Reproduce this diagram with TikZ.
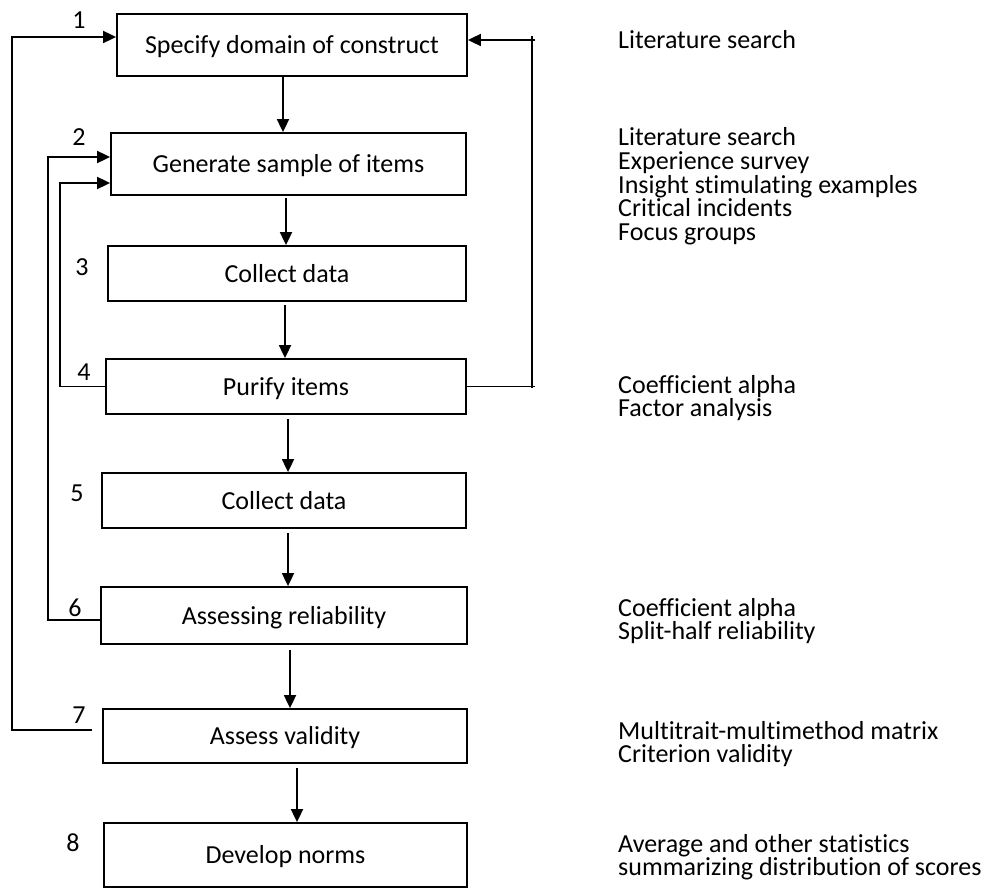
\documentclass[tikz,border=0pt]{standalone}
\usepackage{fontspec}
\setmainfont{Carlito}[Ligatures=CommonOff]
\usetikzlibrary{arrows.meta}

\begin{document}
\begin{tikzpicture}[x=1pt,y=-1pt,
  every node/.style={font=\fontsize{26pt}{23.5pt}\selectfont},
  stage/.style={draw=black, line width=1.8pt, fill=white, inner sep=0pt,
                text height=17pt, text depth=0pt},
  num/.style={inner sep=0pt, text height=17pt, text depth=0pt},
  note/.style={anchor=base west, inner sep=0pt},
  link/.style={line width=1.8pt},
  arr/.style={link, -{Triangle[length=13pt,width=12pt]}}]

\useasboundingbox (0,0) rectangle (995,888);

% process stages
\node[stage, minimum width=350pt, minimum height=62pt] (b1) at (292,45)    {Specify domain of construct};
\node[stage, minimum width=355pt, minimum height=62pt] (b2) at (288.5,164) {Generate sample of items};
\node[stage, minimum width=358pt, minimum height=55pt] (b3) at (287,273.5) {Collect data};
\node[stage, minimum width=360pt, minimum height=55pt] (b4) at (286,386.5) {Purify items};
\node[stage, minimum width=364pt, minimum height=55pt] (b5) at (284,500.5) {Collect data};
\node[stage, minimum width=366pt, minimum height=57pt] (b6) at (284,615.5) {Assessing reliability};
\node[stage, minimum width=364pt, minimum height=54pt] (b7) at (285,736)   {Assess validity};
\node[stage, minimum width=363pt, minimum height=64pt] (b8) at (285.5,855) {Develop norms};

% step numbers
\node[num] (n1) at (79,20)  {1};
\node[num] (n2) at (79,137) {2};
\node[num] (n3) at (82,267) {3};
\node[num] (n4) at (84,372) {4};
\node[num] (n5) at (77,493) {5};
\node[num] (n6) at (75,608) {6};
\node[num] (n7) at (79,715) {7};
\node[num] (n8) at (73,843) {8};

% downward flow
\coordinate (x12) at (283,0);
\coordinate (x23) at (286,0);
\coordinate (x34) at (285,0);
\coordinate (x45) at (288,0);
\coordinate (x56) at (288,0);
\coordinate (x67) at (290,0);
\coordinate (x78) at (297,0);
\draw[arr] (b1.south -| x12) -- (b2.north -| x12);
\draw[arr, shorten <=2pt] (b2.south -| x23) -- (b3.north -| x23);
\draw[arr, shorten <=3pt] (b3.south -| x34) -- (b4.north -| x34);
\draw[arr, shorten <=4pt] (b4.south -| x45) -- (b5.north -| x45);
\draw[arr, shorten <=4pt] (b5.south -| x56) -- (b6.north -| x56);
\draw[arr, shorten <=5pt] (b6.south -| x67) -- (b7.north -| x67);
\draw[arr, shorten <=4pt] (b7.south -| x78) -- (b8.north -| x78);

% feedback loops on the left
\coordinate (o7) at (92,730);
\draw[arr] (o7) -- (12,730) |- ([yshift=8pt]b1.west);
\draw[arr] ([yshift=-4.5pt]b6.west) -- (48,620) |- ([yshift=7pt]b2.west);
\draw[arr] (b4.west) -- (60,386.5) |- ([yshift=-19pt]b2.west);

% feedback loop on the right
\coordinate (rb) at (535,386.5);
\coordinate (rv1) at (532,36);
\coordinate (rv2) at (532,388);
\coordinate (rt) at (535,40);
\draw[link] (b4.east) -- (rb);
\draw[link] (rv1) -- (rv2);
\draw[arr] (rt) -- ([yshift=5pt]b1.east);

% methods for each stage
\node[note] (t1)  at (618,49)    {Literature search};
\node[note] (t2a) at (618,146)   {Literature search};
\node[note] (t2b) at (618,169.5) {Experience survey};
\node[note] (t2c) at (618,193)   {Insight stimulating examples};
\node[note] (t2d) at (618,216.5) {Critical incidents};
\node[note] (t2e) at (618,240)   {Focus groups};
\node[note] (t4a) at (618,393)   {Coefficient alpha};
\node[note] (t4b) at (618,416.5) {Factor analysis};
\node[note] (t6a) at (618,616)   {Coefficient alpha};
\node[note] (t6b) at (618,639.5) {Split-half reliability};
\node[note] (t7a) at (618,739)   {Multitrait-multimethod matrix};
\node[note] (t7b) at (618,762.5) {Criterion validity};
\node[note] (t8a) at (618,852)   {Average and other statistics};
\node[note] (t8b) at (618,875.5) {summarizing distribution of scores};
\end{tikzpicture}
\end{document}
